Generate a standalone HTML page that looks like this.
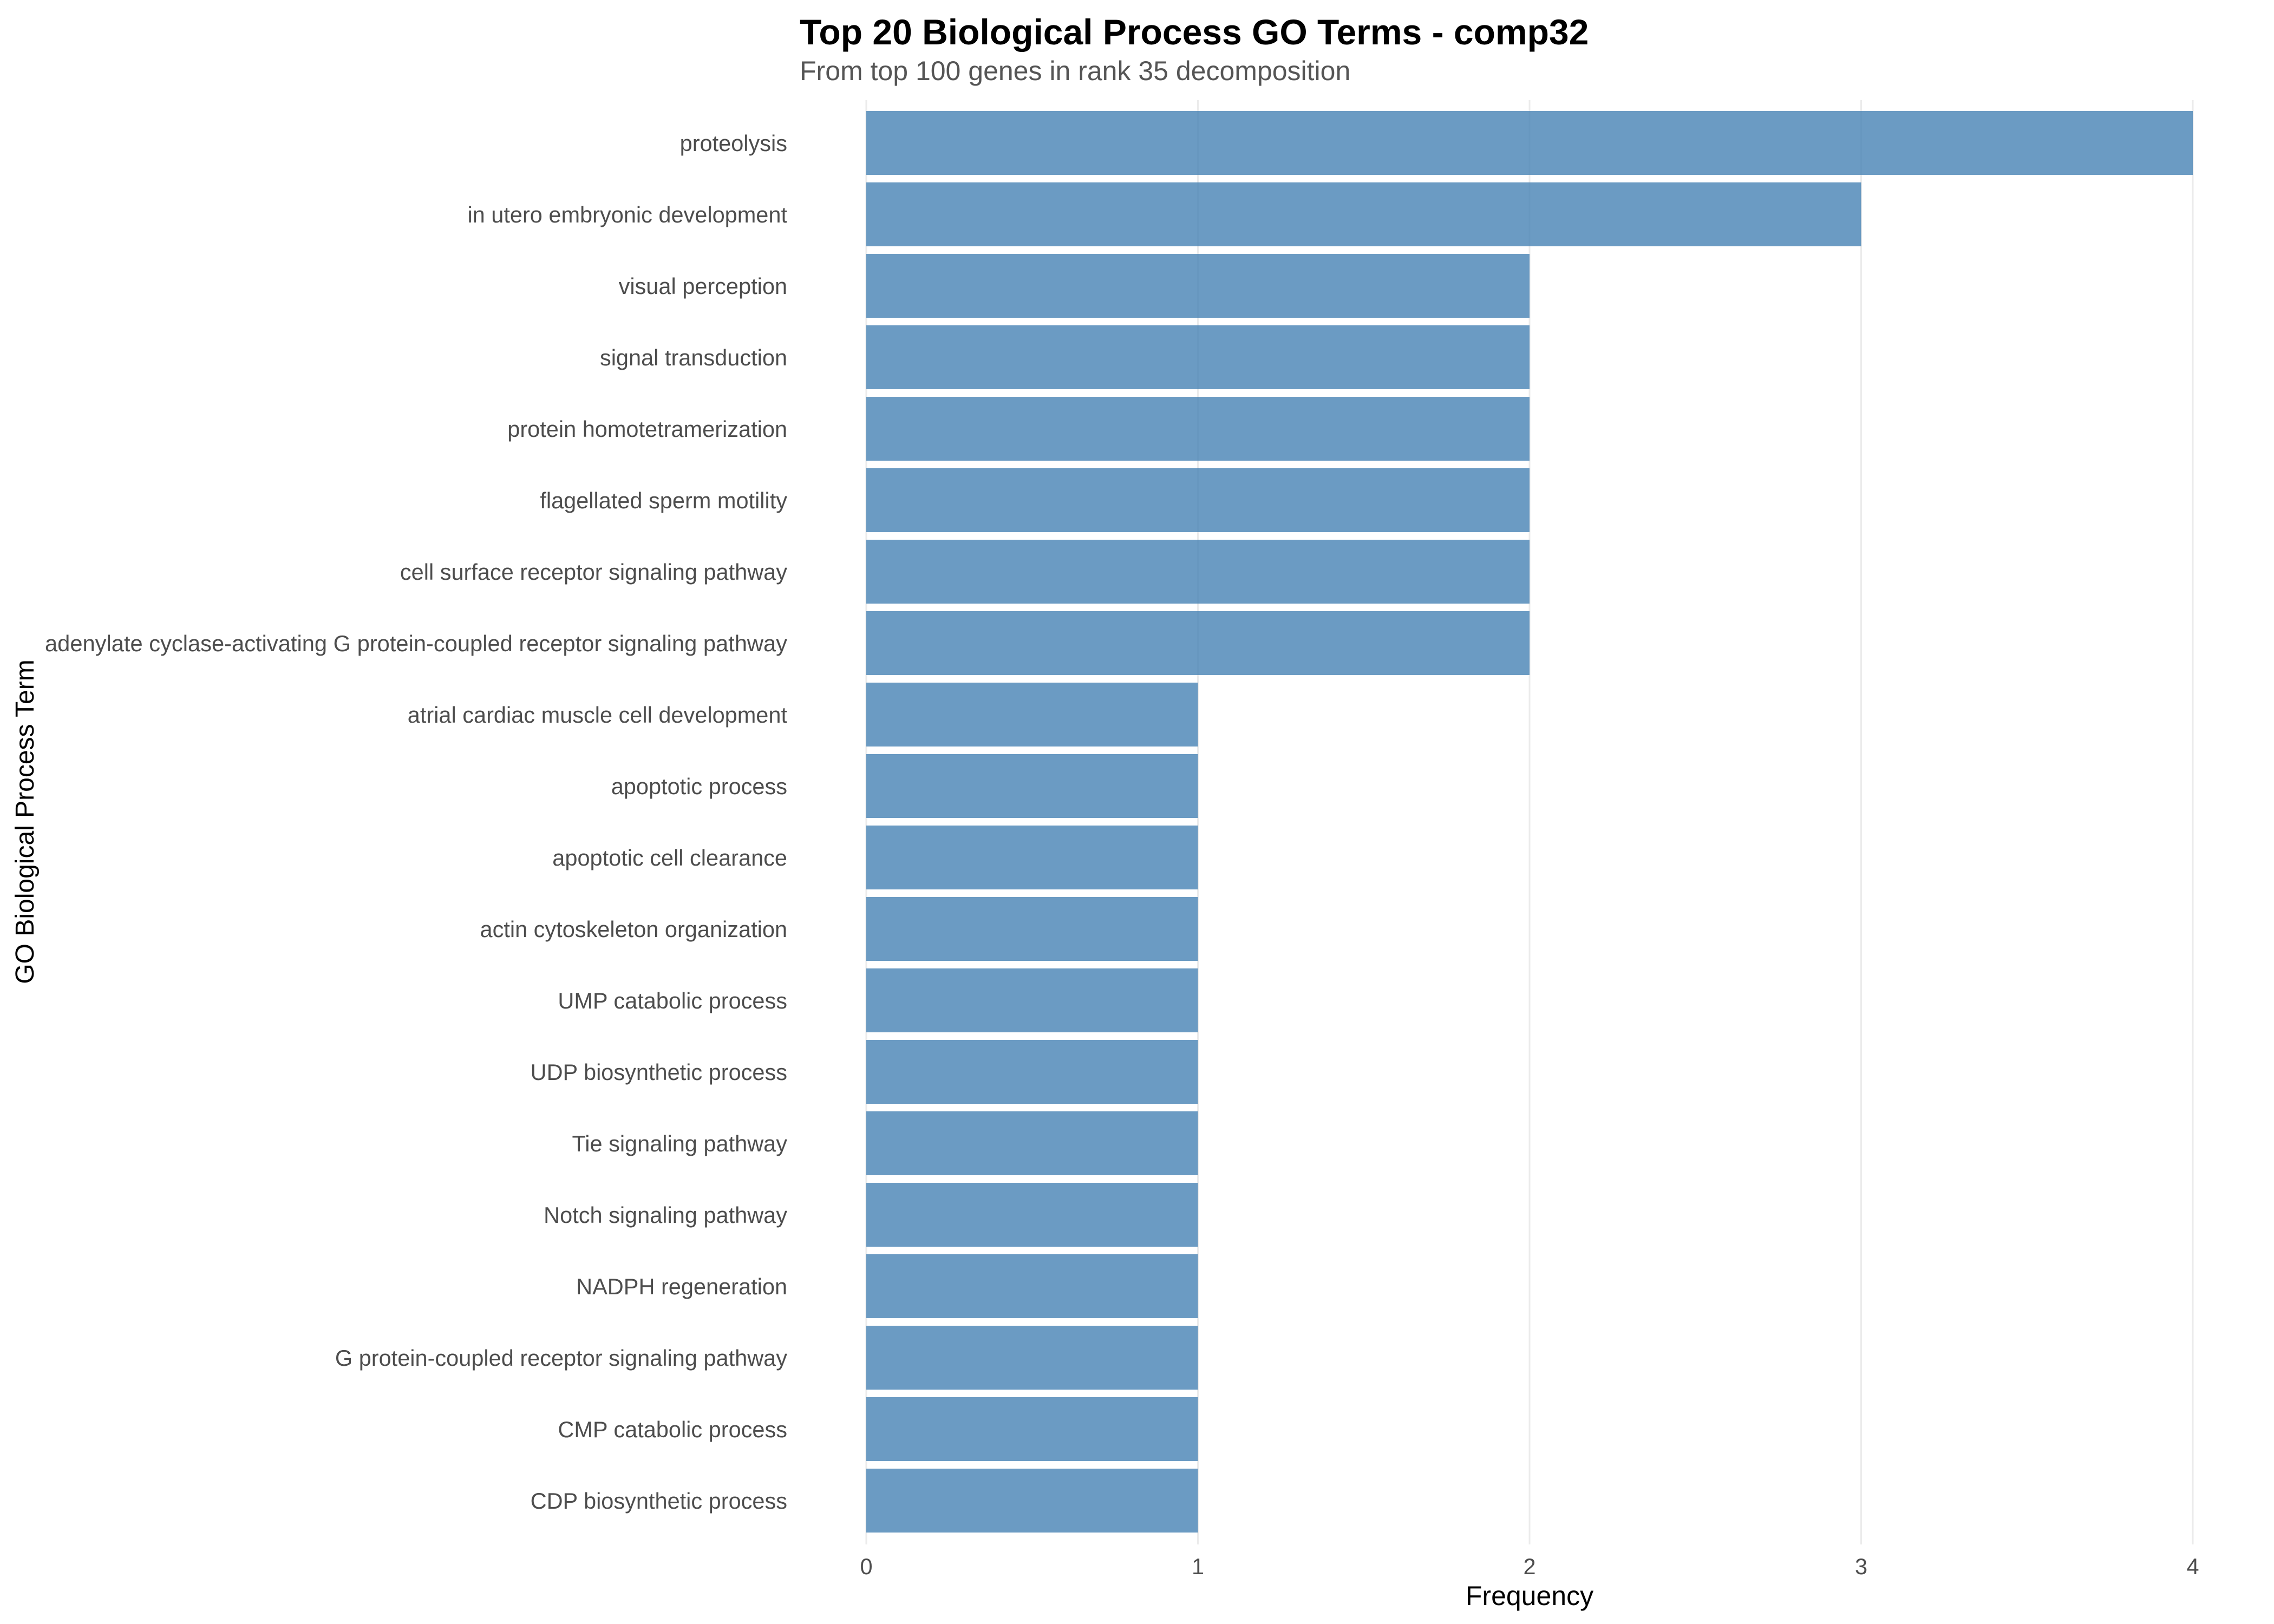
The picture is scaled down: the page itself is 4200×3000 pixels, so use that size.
<!DOCTYPE html>
<html><head><meta charset="utf-8"><style>html,body{margin:0;padding:0;background:#fff}svg{display:block}</style></head><body>
<svg width="4200" height="3000" xmlns="http://www.w3.org/2000/svg" font-family="Liberation Sans, sans-serif">
<rect width="4200" height="3000" fill="#fff"/>
<g stroke="#ebebeb" stroke-width="3">
<line x1="1600" y1="185" x2="1600" y2="2853"/><line x1="2212.5" y1="185" x2="2212.5" y2="2853"/><line x1="2825" y1="185" x2="2825" y2="2853"/><line x1="3437.5" y1="185" x2="3437.5" y2="2853"/><line x1="4050" y1="185" x2="4050" y2="2853"/>
</g>
<g fill="#4682b4" fill-opacity="0.8">
<rect x="1600" y="205" width="2450" height="118"/>
<rect x="1600" y="337" width="1837.5" height="118"/>
<rect x="1600" y="469" width="1225" height="118"/>
<rect x="1600" y="601" width="1225" height="118"/>
<rect x="1600" y="733" width="1225" height="118"/>
<rect x="1600" y="865" width="1225" height="118"/>
<rect x="1600" y="997" width="1225" height="118"/>
<rect x="1600" y="1129" width="1225" height="118"/>
<rect x="1600" y="1261" width="612.5" height="118"/>
<rect x="1600" y="1393" width="612.5" height="118"/>
<rect x="1600" y="1525" width="612.5" height="118"/>
<rect x="1600" y="1657" width="612.5" height="118"/>
<rect x="1600" y="1789" width="612.5" height="118"/>
<rect x="1600" y="1921" width="612.5" height="118"/>
<rect x="1600" y="2053" width="612.5" height="118"/>
<rect x="1600" y="2185" width="612.5" height="118"/>
<rect x="1600" y="2317" width="612.5" height="118"/>
<rect x="1600" y="2449" width="612.5" height="118"/>
<rect x="1600" y="2581" width="612.5" height="118"/>
<rect x="1600" y="2713" width="612.5" height="118"/>
</g>
<g fill="#4d4d4d" font-size="41.5" text-anchor="end">
<text x="1454" y="279">proteolysis</text>
<text x="1454" y="411">in utero embryonic development</text>
<text x="1454" y="543">visual perception</text>
<text x="1454" y="675">signal transduction</text>
<text x="1454" y="807">protein homotetramerization</text>
<text x="1454" y="939">flagellated sperm motility</text>
<text x="1454" y="1071">cell surface receptor signaling pathway</text>
<text x="1454" y="1203" textLength="1371" lengthAdjust="spacingAndGlyphs">adenylate cyclase-activating G protein-coupled receptor signaling pathway</text>
<text x="1454" y="1335">atrial cardiac muscle cell development</text>
<text x="1454" y="1467">apoptotic process</text>
<text x="1454" y="1599">apoptotic cell clearance</text>
<text x="1454" y="1731">actin cytoskeleton organization</text>
<text x="1454" y="1863">UMP catabolic process</text>
<text x="1454" y="1995">UDP biosynthetic process</text>
<text x="1454" y="2127">Tie signaling pathway</text>
<text x="1454" y="2259">Notch signaling pathway</text>
<text x="1454" y="2391">NADPH regeneration</text>
<text x="1454" y="2523">G protein-coupled receptor signaling pathway</text>
<text x="1454" y="2655">CMP catabolic process</text>
<text x="1454" y="2787">CDP biosynthetic process</text>
</g>
<g fill="#4d4d4d" font-size="41.5" text-anchor="middle">
<text x="1600" y="2908">0</text><text x="2212.5" y="2908">1</text><text x="2825" y="2908">2</text><text x="3437.5" y="2908">3</text><text x="4050" y="2908">4</text>
</g>
<text x="2825" y="2965" font-size="50" text-anchor="middle" fill="#000">Frequency</text>
<text transform="translate(62,1518) rotate(-90)" font-size="48" text-anchor="middle" fill="#000">GO Biological Process Term</text>
<text x="1477" y="82" font-size="66" font-weight="bold" fill="#000">Top 20 Biological Process GO Terms - comp32</text>
<text x="1477" y="148" font-size="50" fill="#555">From top 100 genes in rank 35 decomposition</text>
</svg>
</body></html>
